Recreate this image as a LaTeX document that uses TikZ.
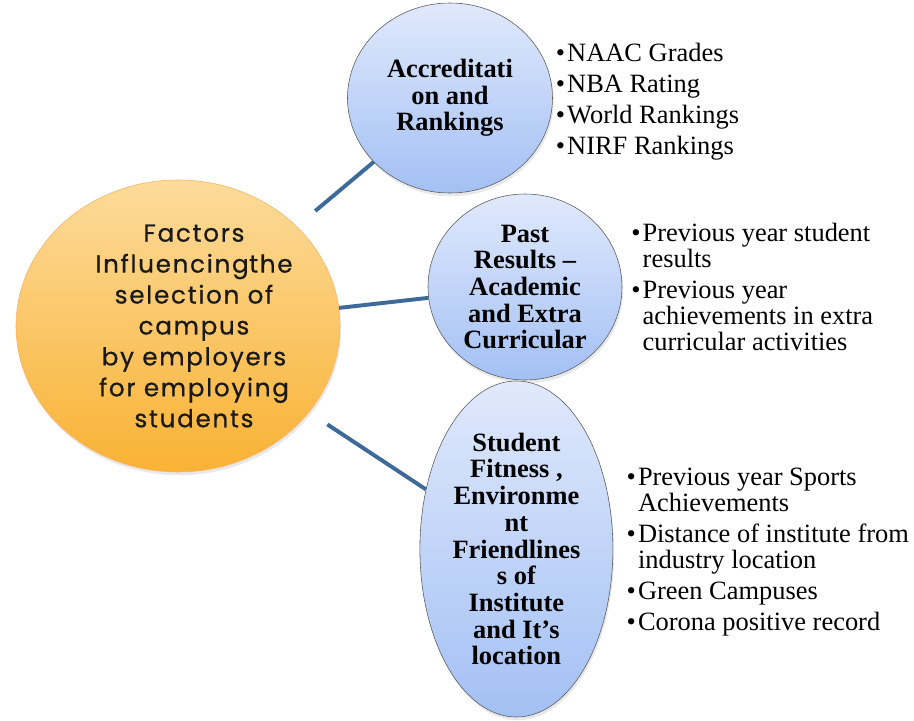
\documentclass[tikz,border=0pt]{standalone}
\usepackage{fontspec}
\setmainfont{Liberation Serif}
\newfontfamily\hubfont[LetterSpace=7,FakeBold=0.6]{Poppins}
\usepackage{tikz}
\usetikzlibrary{positioning,shapes,shadows}

\definecolor{linkblue}{RGB}{62,106,154}
\definecolor{bluetop}{RGB}{224,233,252}
\definecolor{bluebot}{RGB}{163,192,244}
\definecolor{orangetop}{RGB}{252,219,155}
\definecolor{orangebot}{RGB}{249,178,52}

\newcommand{\bpt}{\textbullet\hspace{1.5pt}}
\newcommand{\bsp}{\phantom{\bpt}}

\tikzset{
	hub/.style={ellipse, draw=orange!60!white, thin, top color=orangetop, bottom color=orangebot,
		minimum width=8.1cm, minimum height=7.3cm, inner sep=0pt,
		drop shadow={opacity=0.18, shadow xshift=0.03cm, shadow yshift=-0.08cm}},
	hubtext/.style={align=center, inner sep=0pt, text=black!90, font=\hubfont\fontsize{17.5}{22}\selectfont},
	factor/.style={ellipse, draw=gray!70!black, thin, top color=bluetop, bottom color=bluebot,
		inner sep=0pt, align=center, font=\bfseries\fontsize{18.8}{19}\selectfont,
		drop shadow={opacity=0.18, shadow xshift=0.03cm, shadow yshift=-0.08cm}},
	bullets/.style={align=left, inner sep=0pt, font=\fontsize{18.8}{18.5}\selectfont},
	link/.style={draw=linkblue, line width=2.8pt}
}

\begin{document}
\begin{tikzpicture}
		\useasboundingbox (-4.45,8.15) rectangle (18.4,-9.85);

		% Define nodes
		\node[hub] (Main) {};
		\node[hubtext, xshift=0.4cm] (MainText) at (Main) {Factors\\Influencing\hspace{0.02em}the\\selection of\\campus\\by employers\\for employing\\students};
		\node[factor, minimum width=5.125cm, minimum height=4.75cm, xshift=6.8cm, yshift=5.7cm] (Accr) {Accreditati\\on and\\Rankings};
		\node[factor, minimum width=4.85cm, minimum height=4.65cm, xshift=8.675cm, yshift=0.975cm] (Past) {Past\\Results --\\Academic\\and Extra\\Curricular};
		\node[factor, minimum width=4.825cm, minimum height=8.4cm, xshift=8.46cm, yshift=-5.575cm] (Fit) {Student\\Fitness ,\\Environme\\nt\\Friendlines\\s of\\Institute\\and It's\\location};

		\node[bullets, right=0.07cm of Accr, yshift=-0.1cm] (AccrList) {\bpt NAAC Grades\\[3.5pt]\bpt NBA Rating\\[3.5pt]\bpt World Rankings\\[3.5pt]\bpt NIRF Rankings};
		\node[bullets, right=0.22cm of Past] (PastList) {\bpt Previous year student\\\bsp results\\[4pt]\bpt Previous year\\\bsp achievements in extra\\\bsp curricular activities};
		\node[bullets, right=0.33cm of Fit, yshift=-0.08cm] (FitList) {\bpt Previous year Sports\\\bsp Achievements\\[3.5pt]\bpt Distance of institute from\\\bsp industry location\\[3.5pt]\bpt Green Campuses\\[3.5pt]\bpt Corona positive record};

		% Connect the nodes
		\draw[link, shorten <=0.6cm] (Main) -- (Accr);
		\draw[link] (Main) -- (Past);
		\draw[link, shorten <=0.55cm] (Main) -- (Fit);
\end{tikzpicture}
\end{document}
